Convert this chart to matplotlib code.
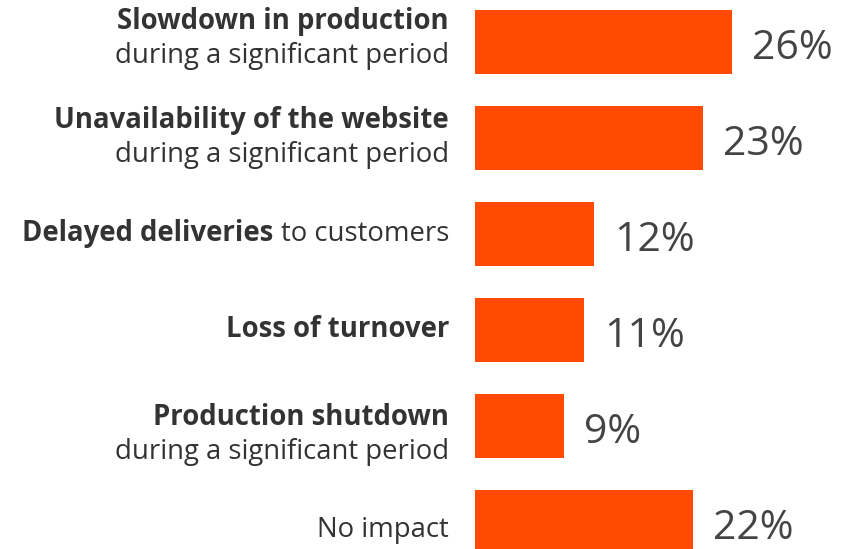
import matplotlib.pyplot as plt
from matplotlib.transforms import blended_transform_factory

# impact of the incident, in % of respondents
bold_text = ['Slowdown in production', 'Unavailability of the website',
             'Delayed deliveries', 'Loss of turnover',
             'Production shutdown', '']
plain_text = ['during a significant period', 'during a significant period',
              'to customers', '',
              'during a significant period', 'No impact']
values = [26, 23, 12, 11, 9, 22]

BAR = '#FF4A00'
INK = '#333333'
plt.rcParams['font.family'] = ['Open Sans', 'DejaVu Sans']

fig = plt.figure(figsize=(8.41, 5.49), dpi=100)
ax = fig.add_axes([475 / 841, 0, 366 / 841, 1])
rows = list(range(len(values)))
ax.barh(rows, values, height=0.667, color=BAR)
ax.set_xlim(0, 37.0)
ax.set_ylim(5.281, -0.4375)
ax.axis('off')

for i, v in enumerate(values):
    ax.annotate(f'{v}%', xy=(v, i), xytext=(14.5, -12.5), textcoords='offset points',
                ha='left', va='baseline', fontsize=29.5, color='#444444')

# baseline of the first label line, px from the bar centre
shift = [-13, -10, 7, 7, -1, 15]
tr = blended_transform_factory(fig.transFigure, ax.transData)
lx = 449 / 841
fs = 19.8
for i in rows:
    b, p = bold_text[i], plain_text[i]
    y0 = -shift[i] * 0.72
    if b and p and i != 2:
        ax.annotate(b, xy=(lx, i), xycoords=tr, xytext=(0, y0), textcoords='offset points',
                    ha='right', va='baseline', fontsize=fs, fontweight='bold', color=INK)
        ax.annotate(p, xy=(lx, i), xycoords=tr, xytext=(0, y0 - 34 * 0.72),
                    textcoords='offset points', ha='right', va='baseline', fontsize=fs, color=INK)
    elif b and p:
        t = ax.annotate(p, xy=(lx, i), xycoords=tr, xytext=(0, y0), textcoords='offset points',
                        ha='right', va='baseline', fontsize=fs, color=INK)
        ax.annotate(b, xy=(0, 0), xycoords=t, xytext=(-5, 0), textcoords='offset points',
                    ha='right', va='bottom', fontsize=fs, fontweight='bold', color=INK)
    else:
        ax.annotate(b or p, xy=(lx, i), xycoords=tr, xytext=(0, y0), textcoords='offset points',
                    ha='right', va='baseline', fontsize=fs,
                    fontweight='bold' if b else 'normal', color=INK)

fig.savefig('out.png', dpi=100)
